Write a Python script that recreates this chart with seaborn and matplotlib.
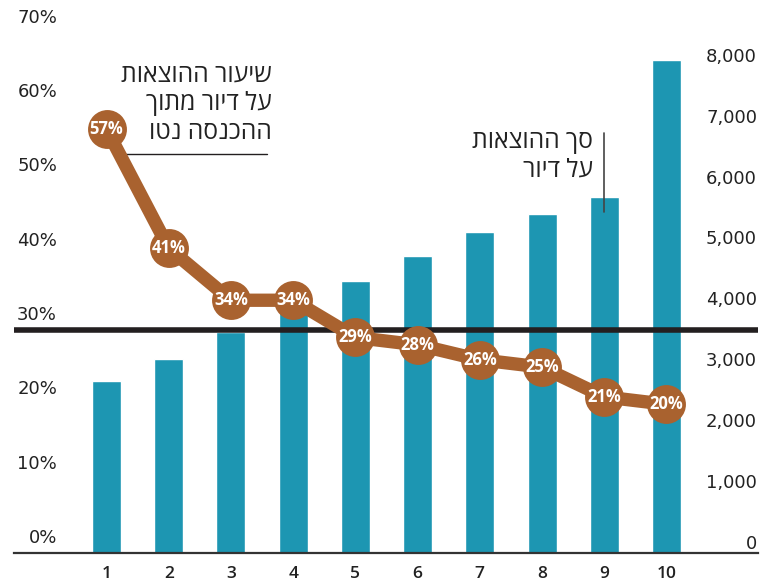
import pandas as pd
import seaborn as sns
import matplotlib.pyplot as plt
import matplotlib.transforms as mtransforms

# data
deciles = ['1', '2', '3', '4', '5', '6', '7', '8', '9', '10']
spend = [2820, 3190, 3630, 4050, 4470, 4880, 5270, 5570, 5850, 8100]
share = [57, 41, 34, 34, 29, 28, 26, 25, 21, 20]
left_ticks = [0, 10, 20, 30, 40, 50, 60, 70]
right_ticks = [0, 1000, 2000, 3000, 4000, 5000, 6000, 7000, 8000]
threshold = 30

label_share = 'שיעור ההוצאות\nעל דיור מתוך\nההכנסה נטו'
label_spend = 'סך ההוצאות\nעל דיור'


def rtl(s):
    # matplotlib has no bidi, so flip each line for display
    return '\n'.join(line[::-1] for line in s.split('\n'))


sns.set_style('white')
plt.rcParams['font.family'] = ['Open Sans', 'DejaVu Sans']

teal = '#1d96b2'
brown = '#a9622f'
dark = '#231f20'
txt = '#222222'

df = pd.DataFrame({'decile': deciles, 'spend': spend, 'share': share})

fig = plt.figure(figsize=(7.6, 5.87), dpi=100)
ax = fig.add_axes([14 / 760, 1 - 553 / 587, 744 / 760, 536 / 587])

sns.barplot(data=df, x='decile', y='spend', ax=ax, color=teal,
            saturation=1, width=0.466)
ax.set_ylim(0, 8800)
ax.set_xlim(-1.487, 10.471)
ax.set_xlabel('')
ax.set_ylabel('')
ax.set_yticks([])
ax.tick_params(axis='x', length=0, pad=9, labelsize=12.5, colors=txt)
for lbl in ax.get_xticklabels():
    lbl.set_fontweight('semibold')
for s in ['left', 'right', 'top']:
    ax.spines[s].set_visible(False)
ax.spines['bottom'].set_color('#333333')
ax.spines['bottom'].set_linewidth(1.6)

ax2 = ax.twinx()
ax2.set_ylim(0, 72.1)
ax2.set_yticks([])
for s in ax2.spines.values():
    s.set_visible(False)

# 30% reference line
ax2.axhline(threshold, color=dark, linewidth=4, zorder=2)

sns.lineplot(x=df.index, y=df['share'], ax=ax2, color=brown, linewidth=9.6,
             marker='o', markersize=28, markeredgewidth=0, zorder=3)
for i, v in enumerate(share):
    ax2.text(i, v, f'{v}%', ha='center', va='center', color='white',
             fontsize=12, fontweight='bold', zorder=4)
ax2.set_xlabel('')
ax2.set_ylabel('')

# axis labels inside the plot area
tl = mtransforms.offset_copy(
    mtransforms.blended_transform_factory(ax2.transAxes, ax2.transData),
    fig=fig, y=6, units='dots')
for t in left_ticks:
    ax2.text(0.0578, t, f'{t}%', transform=tl, ha='right', va='bottom',
             fontsize=13, color=txt, family=['DejaVu Sans'])
tr = mtransforms.offset_copy(
    mtransforms.blended_transform_factory(ax.transAxes, ax.transData),
    fig=fig, y=0, units='dots')
for t in right_ticks:
    ax.text(0.9987, t, f'{t:,}', transform=tr, ha='right', va='bottom',
            fontsize=13, color=txt, family=['DejaVu Sans'])

# annotations
ax2.text(2.66, 60.4, rtl(label_share), ha='right', va='center',
         fontsize=17.8, color=txt, linespacing=1.2,
         family=['Open Sans', 'DejaVu Sans'])
ax2.plot([0.2, 2.58], [53.7, 53.7], color=dark, linewidth=1)
ax2.text(7.82, 53.4, rtl(label_spend), ha='right', va='center',
         fontsize=17.8, color=txt, linespacing=1.2,
         family=['Open Sans', 'DejaVu Sans'])
ax2.plot([8, 8], [45.9, 56.5], color='#444444', linewidth=1.2)

fig.savefig('out.png', dpi=100)
